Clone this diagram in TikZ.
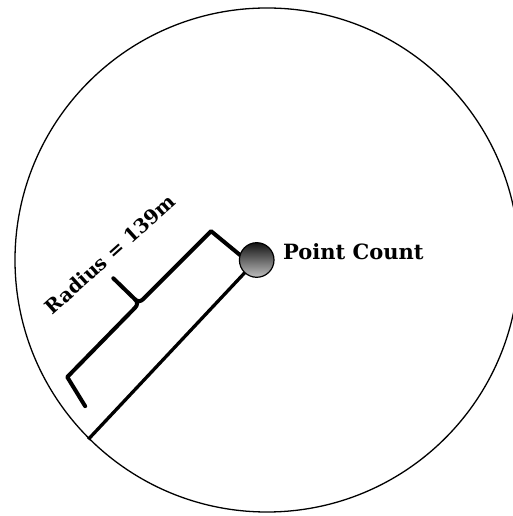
\documentclass[tikz,border=0pt]{standalone}
\usepackage{fontspec}
\setmainfont{DejaVu Serif}
\usepackage{tikz}
\usetikzlibrary{calc,positioning}
\definecolor{dotDark}{RGB}{20,20,20}
\definecolor{dotLight}{RGB}{190,190,190}
\tikzset{
  plotRing/.style={circle,draw=black,line width=1.3pt,minimum size=504pt,inner sep=0pt},
  countDot/.style={circle,draw=black,line width=1.2pt,minimum size=34.6pt,inner sep=0pt,
                   top color=dotDark,bottom color=dotLight},
  radiusLine/.style={line width=3.3pt},
  braceLine/.style={line width=4pt,line join=round,line cap=round},
  lbl/.style={font=\fontsize{#1}{#1}\selectfont\bfseries,inner sep=0pt},
}
\begin{document}
\begin{tikzpicture}[x=1pt,y=1pt]
  \useasboundingbox (0,0) rectangle (513,516);
  \clip (0,0) rectangle (513,516);
  \node[plotRing](ring) at (267,256){};
  \coordinate (ctr) at (256.7,256);
  \begin{scope}[shift={(ctr)},rotate=226.8]
    \coordinate (rim) at (246,0);
    % bracket along the radius
    \draw[braceLine] (7.8,-15.6) -- (10.2,-53) -- (106,-56)
      .. controls (110,-56) and (112,-58) .. (112,-62)
      .. controls (112,-58) and (114,-56) .. (118,-56)
      -- (215,-58) -- (224,-25);
    \draw[braceLine] (112,-62) -- (111.5,-92);
  \end{scope}
  \draw[radiusLine](ctr)--(rim);
  \node[countDot](dot) at (ctr){};
  \node[lbl=21,anchor=base west](pc) at (283,256.7){Point Count};
  \node[lbl=19.5,rotate=42](rad) at (110,262){Radius = 139m};
\end{tikzpicture}
\end{document}
